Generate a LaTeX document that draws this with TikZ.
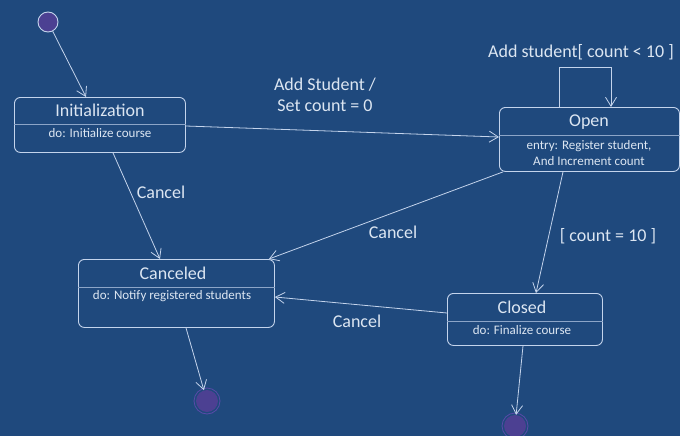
\documentclass[tikz,border=0pt]{standalone}
\usepackage{fontspec}
\setmainfont{Carlito}
\usetikzlibrary{arrows.meta}
\definecolor{bgblue}{RGB}{31,73,125}
\definecolor{ink}{RGB}{196,212,236}
\definecolor{txt}{RGB}{220,230,242}
\definecolor{divider}{RGB}{140,165,200}
\definecolor{dotfill}{RGB}{76,64,146}
\definecolor{ringc}{RGB}{90,74,170}
\tikzset{
  statebox/.style={draw=ink, line width=0.9pt, rounded corners=6pt, inner sep=0pt,
    anchor=north west, minimum width=#1},
  title/.style={text=txt, font=\fontsize{18}{21}\selectfont, inner sep=0pt},
  body/.style={text=txt, font=\fontsize{13}{15.5}\selectfont, inner sep=0pt, align=center},
  elabel/.style={text=txt, font=\fontsize{18}{21}\selectfont, inner sep=0pt, align=center},
  trans/.style={draw=ink, line width=0.8pt, -{Straight Barb[length=9pt,width=11pt,line width=0.8pt]}},
  divline/.style={draw=divider, line width=0.7pt},
  startdot/.style={circle, fill=dotfill, draw=ink, line width=0.9pt, minimum size=20pt, inner sep=0pt},
  enddot/.style={circle, fill=dotfill, minimum size=22pt, inner sep=0pt},
}
\begin{document}
\begin{tikzpicture}[x=1pt,y=-1pt]
  \useasboundingbox (0,0) rectangle (680,436);
  \fill[bgblue] (0,0) rectangle (680,436);

  % initial and final pseudo-states
  \node[startdot] (ini) at (48,22) {};
  \node[enddot] (fin1) at (207,401) {};
  \draw[ringc, line width=0.8pt] (fin1) circle[radius=13pt];
  \node[enddot] (fin2) at (515,426) {};
  \draw[ringc, line width=0.8pt] (fin2) circle[radius=13pt];

  % states
  \node[statebox=171pt, minimum height=55pt] (init) at (14,97) {};
  \draw[divline] ([yshift=-27pt]init.north west) -- ([yshift=-27pt]init.north east);
  \node[title] (initT) at (100,110) {Initialization};
  \node[body] (initB) at (100,133) {do: Initialize course};

  \node[statebox=180pt, minimum height=64pt] (open) at (499,107) {};
  \draw[divline] ([yshift=-28pt]open.north west) -- ([yshift=-28pt]open.north east);
  \node[title] (openT) at (589,122) {Open};
  \node[body] (openB) at (589,153) {entry: Register student,\\And Increment count};

  \node[statebox=196pt, minimum height=68pt] (canc) at (78,259) {};
  \draw[divline] ([yshift=-28pt]canc.north west) -- ([yshift=-28pt]canc.north east);
  \node[title] (cancT) at (173,273) {Canceled};
  \node[body] (cancB) at (172,296) {do: Notify registered students};

  \node[statebox=155pt, minimum height=52pt] (closed) at (447,293) {};
  \draw[divline] ([yshift=-28pt]closed.north west) -- ([yshift=-28pt]closed.north east);
  \node[title] (closedT) at (522,307) {Closed};
  \node[body] (closedB) at (522,330) {do: Finalize course};

  % transitions
  \draw[trans] (ini) -- ([xshift=72pt]init.north west);
  \draw[trans] ([yshift=-29pt]init.north east) -- ([yshift=-30pt]open.north west);
  \draw[trans] ([xshift=99pt]init.south west) -- ([xshift=82pt]canc.north west);
  \draw[trans] ([xshift=4pt]open.south west) -- ([xshift=-6pt]canc.north east);
  \draw[trans] ([xshift=64pt]open.south west) -- ([xshift=89pt]closed.north west);
  \draw[trans] ([yshift=-20pt]closed.north west) -- ([yshift=-38pt]canc.north east);
  \draw[trans] ([xshift=108pt]canc.south west) -- (fin1);
  \draw[trans] ([xshift=76pt]closed.south west) -- (fin2);
  \draw[trans] ([xshift=60pt]open.north west) -- ++(0,-40) -| ([xshift=112pt]open.north west);

  % transition labels
  \node[elabel] (lAdd) at (325,95) {Add Student /\\Set count = 0};
  \node[elabel] (lLoop) at (581,52) {Add student[ count < 10 ]};
  \node[elabel] (lC1) at (161,192) {Cancel};
  \node[elabel] (lC2) at (393,232) {Cancel};
  \node[elabel] (lC3) at (357,321) {Cancel};
  \node[elabel] (lFull) at (608,236) {[ count = 10 ]};
\end{tikzpicture}
\end{document}
